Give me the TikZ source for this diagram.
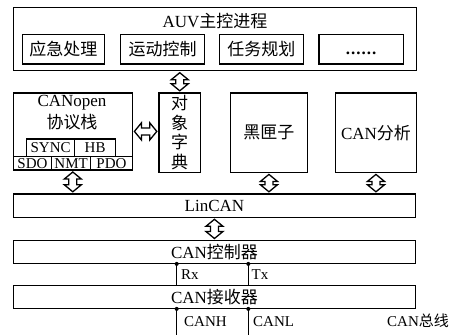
\documentclass[tikz,border=0pt]{standalone}
\usepackage{fontspec}
\setmainfont{Liberation Serif}
\newfontfamily\cjk{Noto Sans CJK SC}
\usetikzlibrary{calc}
\newcommand\vdarrow[2]{%
  \draw[barrow] let \p1=($#1+(0,1.5)$), \p2=($#2+(0,-1.5)$) in
    (\x1,\y1) -- (\x1+8.5pt,\y1-7pt) -- (\x1+4pt,\y1-7pt) -- (\x1+4pt,\y2+7pt)
    -- (\x1+8.5pt,\y2+7pt) -- (\x1,\y2) -- (\x1-8.5pt,\y2+7pt) -- (\x1-4pt,\y2+7pt)
    -- (\x1-4pt,\y1-7pt) -- (\x1-8.5pt,\y1-7pt) -- cycle;}
\newcommand\hdarrow[2]{%
  \draw[barrow] let \p1=($#1+(1.5,0)$), \p2=($#2+(-1.5,0)$) in
    (\x1,\y1) -- (\x1+7pt,\y1+8.5pt) -- (\x1+7pt,\y1+3.5pt) -- (\x2-7pt,\y1+3.5pt)
    -- (\x2-7pt,\y1+8.5pt) -- (\x2,\y1) -- (\x2-7pt,\y1-8.5pt) -- (\x2-7pt,\y1-3.5pt)
    -- (\x1+7pt,\y1-3.5pt) -- (\x1+7pt,\y1-8.5pt) -- cycle;}
\begin{document}
\begin{tikzpicture}[x=1pt,y=-1pt,
  box/.style={draw, line width=1.2pt, inner sep=0pt, anchor=north west},
  txt/.style={inner sep=0pt, font=\fontsize{17}{19.5}\selectfont},
  small/.style={inner sep=0pt, font=\fontsize{15}{17}\selectfont},
  barrow/.style={draw, line width=1.3pt, fill=white, line join=miter},
  wire/.style={line width=1.2pt}]
\useasboundingbox (0,0) rectangle (459,335);
% top process box
\node[box, minimum width=402.7pt, minimum height=63pt] (top) at (13,7) {};
\node[txt] (title) at (215,21.5) {AUV{\cjk 主控进程}};
\node[box, minimum width=82.3pt, minimum height=29.8pt] (a1) at (21.7,33.5) {};
\node[txt] (a1t) at (a1.center) {\cjk 应急处理};
\node[box, minimum width=84pt, minimum height=29.8pt] (a2) at (120,33.5) {};
\node[txt] (a2t) at (a2.center) {\cjk 运动控制};
\node[box, minimum width=84.5pt, minimum height=29.8pt] (a3) at (218.5,33.5) {};
\node[txt] (a3t) at (a3.center) {\cjk 任务规划};
\node[box, minimum width=84.4pt, minimum height=29.8pt] (a4) at (318.3,33.5) {};
\node[txt, yshift=-4pt] (a4t) at (a4.center) {\textbf{.\kern1pt.\kern1pt.\kern1pt.\kern1pt.\kern1pt.}};
% CANopen stack
\node[box, minimum width=119pt, minimum height=77pt] (canopen) at (12.7,92.3) {};
\node[txt] (cot1) at (72,103) {CANopen};
\node[txt] (cot2) at (72,122) {\cjk 协议栈};
\node[box, minimum width=48pt, minimum height=17.7pt] (sync) at (26,138.3) {};
\node[small] (synct) at (sync.center) {SYNC};
\node[box, minimum width=41pt, minimum height=17.7pt] (hb) at (74,138.3) {};
\node[small] (hbt) at (hb.center) {HB};
\node[box, minimum width=38.3pt, minimum height=13.3pt] (sdo) at (12.7,156) {};
\node[small] (sdot) at (sdo.center) {SDO};
\node[box, minimum width=39pt, minimum height=13.3pt] (nmt) at (51,156) {};
\node[small] (nmtt) at (nmt.center) {NMT};
\node[box, minimum width=41.7pt, minimum height=13.3pt] (pdo) at (90,156) {};
\node[small] (pdot) at (pdo.center) {PDO};
% object dictionary
\node[box, minimum width=41.7pt, minimum height=79.4pt] (dict) at (158.3,92.3) {};
\node[txt, align=center] (dictt) at (dict.center) {\cjk 对\\\cjk 象\\\cjk 字\\\cjk 典};
% black box
\node[box, minimum width=76.7pt, minimum height=79.4pt] (black) at (230,92.3) {};
\node[txt] (blackt) at (black.center) {\cjk 黑匣子};
% CAN analysis
\node[box, minimum width=80.7pt, minimum height=79.4pt] (ana) at (335,92.3) {};
\node[txt] (anat) at (ana.center) {CAN{\cjk 分析}};
% LinCAN, controller, transceiver
\node[box, minimum width=402.3pt, minimum height=23.3pt] (lincan) at (12.7,193.3) {};
\node[txt] (lincant) at (lincan.center) {LinCAN};
\node[box, minimum width=402.3pt, minimum height=22.7pt] (ctrl) at (12.7,240) {};
\node[txt] (ctrlt) at (ctrl.center) {CAN{\cjk 控制器}};
\node[box, minimum width=402.3pt, minimum height=22.7pt] (recv) at (12.7,285) {};
\node[txt] (recvt) at (recv.center) {CAN{\cjk 接收器}};
% block arrows
\vdarrow{(top.south -| dict.north)}{(dict.north)}
\hdarrow{(canopen.east)}{(dict.west |- canopen.east)}
\vdarrow{(canopen.south)}{(lincan.north -| canopen.south)}
\vdarrow{(black.south)}{(lincan.north -| black.south)}
\vdarrow{(ana.south)}{(lincan.north -| ana.south)}
\vdarrow{(lincan.south)}{(ctrl.north)}
% wires
\coordinate (rx) at (176.7,0);
\coordinate (tx) at (248.3,0);
\coordinate (bot) at (0,336);
\draw[wire] (rx |- ctrl.south) -- (rx |- recv.north);
\draw[wire] (tx |- ctrl.south) -- (tx |- recv.north);
\draw[wire] (rx |- recv.south) -- (rx |- bot);
\draw[wire] (tx |- recv.south) -- (tx |- bot);
\fill (rx |- ctrl.south) circle (2);
\fill (tx |- ctrl.south) circle (2);
\fill (rx |- recv.south) circle (2);
\fill (tx |- recv.south) circle (2);
\node[small, anchor=west] (rxt) at (181,275) {Rx};
\node[small, anchor=west] (txt) at (251.5,275) {Tx};
\node[small, anchor=west] (canh) at (184,322) {CANH};
\node[small, anchor=west] (canl) at (253,322) {CANL};
\node[small, anchor=west] (bus) at (387,321) {CAN{\cjk 总线}};
\end{tikzpicture}
\end{document}
